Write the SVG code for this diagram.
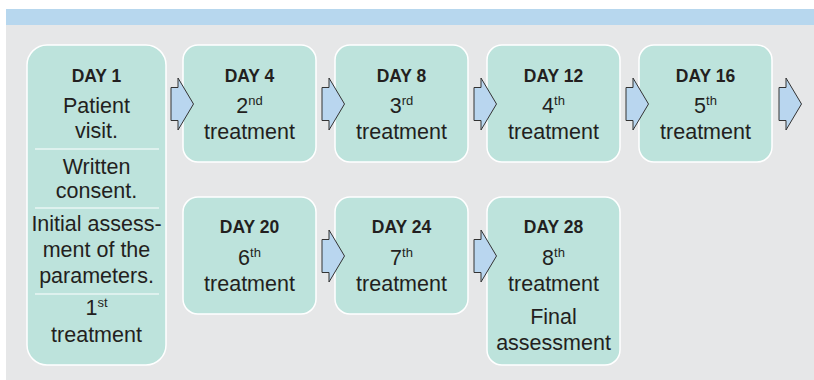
<svg xmlns="http://www.w3.org/2000/svg" width="814" height="380" viewBox="0 0 814 380">
<style>
.node{fill:#bde3dc;stroke:#ffffff;stroke-width:1.5}
.day{font-family:"Liberation Sans",Arial,sans-serif;font-weight:bold;font-size:17.5px;fill:#231f20;text-anchor:middle}
.t{font-family:"Liberation Sans",Arial,sans-serif;font-size:21.5px;fill:#231f20;text-anchor:middle}
.sup{font-size:13px}
.div{stroke:#ffffff;stroke-width:1.2}
.arr{fill:#b9d6ef;stroke:#333333;stroke-width:1;stroke-linejoin:miter}
</style>
<defs>
<path id="arrow" class="arr" d="M0,-16.5 H7 V-26 L22.5,0 L7,26 V16.5 H0 Z"/>
</defs>
<rect x="0" y="0" width="814" height="380" fill="#ffffff"/>
<rect x="6" y="25" width="808" height="355" fill="#e6e7e8"/>
<rect x="6" y="9" width="808" height="16" fill="#b7d7ee"/>

<g id="day1">
<rect class="node" x="27" y="45" width="139" height="320" rx="20"/>
<line class="div" x1="35" y1="149" x2="159" y2="149"/>
<line class="div" x1="35" y1="208" x2="159" y2="208"/>
<line class="div" x1="35" y1="294" x2="159" y2="294"/>
<text class="day" x="96.5" y="82">DAY 1</text>
<text class="t" x="96.5" y="113">Patient</text>
<text class="t" x="96.5" y="138">visit.</text>
<text class="t" x="96.5" y="174">Written</text>
<text class="t" x="96.5" y="198">consent.</text>
<text class="t" x="96.5" y="231">Initial assess-</text>
<text class="t" x="96.5" y="257">ment of the</text>
<text class="t" x="96.5" y="283">parameters.</text>
<text class="t" x="96.5" y="315">1<tspan class="sup" dy="-8">st</tspan></text>
<text class="t" x="96.5" y="342">treatment</text>
</g>

<g id="day4">
<rect class="node" x="183" y="45" width="133" height="117" rx="15"/>
<text class="day" x="249.5" y="82">DAY 4</text>
<text class="t" x="249.5" y="113">2<tspan class="sup" dy="-8">nd</tspan></text>
<text class="t" x="249.5" y="139">treatment</text>
</g>

<g id="day8">
<rect class="node" x="335" y="45" width="133" height="117" rx="15"/>
<text class="day" x="401.5" y="82">DAY 8</text>
<text class="t" x="401.5" y="113">3<tspan class="sup" dy="-8">rd</tspan></text>
<text class="t" x="401.5" y="139">treatment</text>
</g>

<g id="day12">
<rect class="node" x="487" y="45" width="133" height="117" rx="15"/>
<text class="day" x="553.5" y="82">DAY 12</text>
<text class="t" x="553.5" y="113">4<tspan class="sup" dy="-8">th</tspan></text>
<text class="t" x="553.5" y="139">treatment</text>
</g>

<g id="day16">
<rect class="node" x="639" y="45" width="133" height="117" rx="15"/>
<text class="day" x="705.5" y="82">DAY 16</text>
<text class="t" x="705.5" y="113">5<tspan class="sup" dy="-8">th</tspan></text>
<text class="t" x="705.5" y="139">treatment</text>
</g>

<g id="day20">
<rect class="node" x="183" y="197" width="133" height="117" rx="15"/>
<text class="day" x="249.5" y="233">DAY 20</text>
<text class="t" x="249.5" y="265">6<tspan class="sup" dy="-8">th</tspan></text>
<text class="t" x="249.5" y="291">treatment</text>
</g>

<g id="day24">
<rect class="node" x="335" y="197" width="133" height="117" rx="15"/>
<text class="day" x="401.5" y="233">DAY 24</text>
<text class="t" x="401.5" y="265">7<tspan class="sup" dy="-8">th</tspan></text>
<text class="t" x="401.5" y="291">treatment</text>
</g>

<g id="day28">
<rect class="node" x="487" y="197" width="133" height="168" rx="15"/>
<text class="day" x="553.5" y="233">DAY 28</text>
<text class="t" x="553.5" y="265">8<tspan class="sup" dy="-8">th</tspan></text>
<text class="t" x="553.5" y="291">treatment</text>
<text class="t" x="553.5" y="324">Final</text>
<text class="t" x="553.5" y="350">assessment</text>
</g>

<g id="connectors">
<use href="#arrow" x="171" y="104"/>
<use href="#arrow" x="322" y="104"/>
<use href="#arrow" x="474" y="104"/>
<use href="#arrow" x="626" y="104"/>
<use href="#arrow" x="779" y="104"/>
<use href="#arrow" x="322" y="256"/>
<use href="#arrow" x="474" y="256"/>
</g>
</svg>
